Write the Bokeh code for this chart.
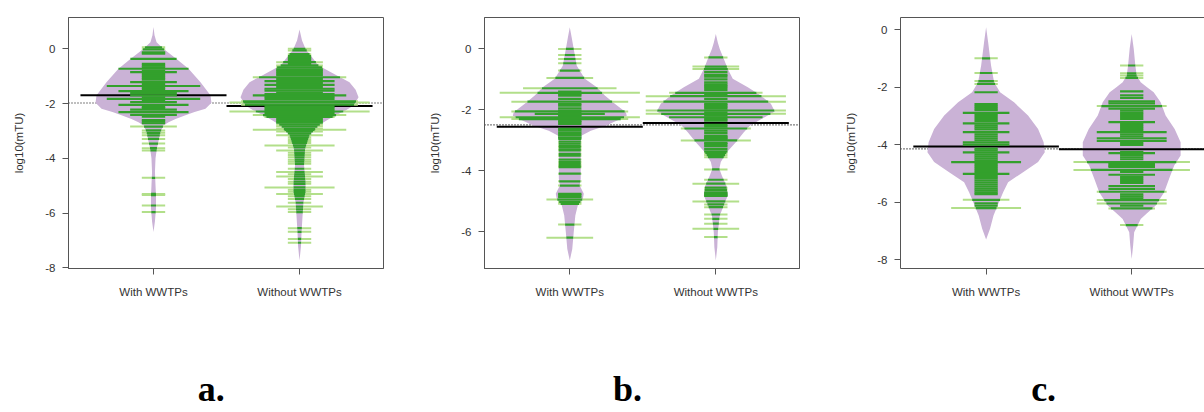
import numpy as np
from bokeh.plotting import figure
from bokeh.layouts import row, column
from bokeh.models import Range1d, FixedTicker, Span, LinearAxis
from bokeh.core.properties import value
from bokeh.embed import file_html
from bokeh.resources import INLINE

categories = ["With WWTPs", "Without WWTPs"]
panel_tags = ["a.", "b.", "c."]
y_title = "log10(mTU)"
yticks_a = [0, -2, -4, -6, -8]
yticks_b = [0, -2, -4, -6]
yticks_c = [0, -2, -4, -6, -8]

# ---- bean outlines: y levels and half-widths (x units) ----
a_with_dy = [0.79, 0.49, 0.24, 0.0, -0.37, -0.73, -1.22, -1.70, -1.97, -2.19, -2.31, -2.43,
             -2.56, -2.68, -2.80, -3.04, -3.65, -4.0, -4.5, -5.0, -5.35, -5.84, -6.3, -6.69]
a_with_dw = [0, .007, .021, .068, .158, .240, .322, .390, .397, .356, .281, .219,
             .151, .103, .068, .048, .023, .014, .010, .014, .017, .017, .010, 0]
a_wo_dy = [0.70, 0.3, 0.0, -0.24, -0.61, -0.97, -1.22, -1.50, -1.77, -2.07, -2.25, -2.43,
           -2.62, -2.80, -3.16, -3.65, -4.26, -4.87, -5.23, -5.6, -6.08, -6.69, -7.2, -7.73]
a_wo_dw = [0, .017, .041, .075, .130, .253, .342, .384, .404, .370, .315, .247,
           .185, .130, .068, .038, .031, .041, .041, .027, .021, .014, .010, 0]
b_with_dy = [0.71, 0.35, 0.0, -0.55, -0.98, -1.26, -1.53, -1.80, -2.08, -2.19, -2.30, -2.40,
             -2.52, -2.68, -2.84, -3.06, -3.50, -3.93, -4.26, -4.48, -4.75, -4.92, -5.13,
             -5.46, -6.01, -6.56, -6.94]
b_with_dw = [0, .014, .027, .048, .103, .185, .240, .308, .384, .390, .349, .301,
             .247, .144, .082, .075, .075, .075, .075, .068, .096, .089, .055,
             .038, .027, .017, 0]
b_wo_dy = [0.49, 0.2, 0.0, -0.33, -0.66, -0.98, -1.26, -1.53, -1.80, -2.05, -2.29, -2.52,
           -2.73, -3.06, -3.39, -3.71, -3.93, -4.15, -4.48, -4.81, -5.13, -5.46, -6.01, -6.5, -6.94]
b_wo_dw = [0, .014, .027, .055, .082, .116, .219, .308, .377, .404, .315, .233,
           .192, .137, .075, .034, .024, .041, .072, .082, .055, .027, .014, .010, 0]
c_with_dy = [0.08, -0.44, -1.25, -1.83, -2.18, -2.53, -2.99, -3.46, -3.92, -4.27, -4.61,
             -4.96, -5.31, -5.66, -6.0, -6.47, -6.93, -7.30]
c_with_dw = [0, .014, .034, .055, .096, .192, .288, .357, .395, .403, .357,
             .254, .151, .117, .089, .051, .027, 0]
c_wo_dy = [-0.15, -0.67, -1.25, -1.6, -1.83, -2.0, -2.18, -2.53, -2.99, -3.46, -3.92, -4.38,
           -4.73, -5.19, -5.66, -6.12, -6.40, -6.59, -7.05, -7.5, -7.98]
c_wo_dw = [0, .014, .025, .034, .062, .103, .151, .199, .233, .295, .336, .336,
           .292, .257, .223, .165, .103, .062, .017, .010, 0]

# ---- observations (log10 mTU) and number of identical observations ----
a_with_vals = [0.05, -0.02, -0.13, -0.18, -0.37, -0.55, -0.62, -0.68, -0.73, -0.80,
               -0.85, -0.92, -0.99, -1.06, -1.13, -1.22, -1.29, -1.36, -1.43, -1.49,
               -1.55, -1.62, -1.70, -1.77, -1.83, -1.89, -1.95, -2.05, -2.12, -2.17,
               -2.22, -2.31, -2.41, -2.48, -2.60, -2.66, -2.72, -2.84, -2.98, -3.07,
               -3.16, -3.29, -3.46, -3.63, -3.71, -4.71, -5.30, -5.34, -5.72, -5.96]
a_with_cnt = [1, 1, 1, 1, 2, 1, 1, 1, 3, 1,
              2, 1, 1, 1, 1, 2, 1, 4, 1, 1,
              3, 2, 2, 1, 4, 1, 2, 3, 1, 1,
              2, 3, 2, 1, 1, 1, 1, 2, 1, 1,
              1, 1, 1, 1, 1, 1, 1, 1, 1, 1]
a_wo_vals = [0.00, -0.06, -0.20, -0.27, -0.34, -0.41, -0.49, -0.55, -0.61, -0.68,
             -0.75, -0.82, -0.89, -0.96, -1.04, -1.11, -1.18, -1.25, -1.32, -1.39,
             -1.46, -1.53, -1.60, -1.66, -1.70, -1.76, -1.83, -1.92, -1.96, -2.04,
             -2.10, -2.17, -2.24, -2.29, -2.35, -2.42, -2.49, -2.56, -2.63, -2.70,
             -2.77, -2.84, -2.93, -2.96, -3.02, -3.09, -3.16, -3.23, -3.30, -3.37,
             -3.44, -3.53, -3.60, -3.71, -3.80, -3.88, -3.96, -4.05, -4.12, -4.20,
             -4.38, -4.50, -4.58, -4.66, -4.75, -4.85, -4.93, -5.06, -5.15, -5.22,
             -5.30, -5.38, -5.48, -5.62, -5.76, -5.86, -5.96, -6.55, -6.68, -6.94,
             -7.08]
a_wo_cnt = [1, 1, 1, 1, 1, 1, 2, 1, 2, 2,
            2, 2, 2, 2, 4, 2, 3, 2, 3, 2,
            3, 3, 2, 3, 4, 3, 3, 5, 6, 5,
            3, 3, 3, 6, 3, 4, 3, 2, 2, 2,
            2, 2, 2, 4, 2, 1, 2, 1, 1, 1,
            1, 3, 1, 2, 1, 1, 1, 1, 1, 1,
            1, 2, 1, 2, 1, 1, 1, 3, 1, 1,
            2, 1, 1, 1, 2, 1, 1, 1, 1, 1,
            1]
b_with_vals = [0.00, -0.20, -0.33, -0.47, -0.71, -0.95, -1.29, -1.40, -1.44, -1.48,
               -1.53, -1.64, -1.73, -1.80, -1.86, -1.95, -2.02, -2.05, -2.10, -2.13,
               -2.17, -2.21, -2.24, -2.30, -2.36, -2.40, -2.46, -2.62, -2.68, -2.75,
               -2.82, -2.90, -2.95, -3.04, -3.11, -3.18, -3.22, -3.29, -3.33, -3.44,
               -3.50, -3.63, -3.71, -3.78, -3.84, -3.88, -4.09, -4.34, -4.48, -4.75,
               -4.80, -4.86, -4.94, -5.02, -5.08, -5.76, -6.19]
b_with_cnt = [1, 1, 1, 1, 1, 2, 4, 1, 6, 1,
              1, 1, 5, 1, 1, 1, 1, 5, 1, 3,
              1, 1, 6, 5, 1, 1, 1, 1, 1, 1,
              1, 1, 1, 1, 1, 1, 1, 1, 1, 1,
              1, 1, 1, 1, 1, 1, 1, 1, 1, 1,
              1, 1, 2, 1, 1, 1, 2]
b_wo_vals = [-0.28, -0.58, -0.66, -0.76, -0.85, -0.91, -1.00, -1.10, -1.16, -1.22,
             -1.28, -1.35, -1.44, -1.50, -1.55, -1.64, -1.73, -1.80, -1.85, -1.90,
             -1.96, -2.02, -2.08, -2.13, -2.19, -2.24, -2.30, -2.35, -2.49, -2.55,
             -2.61, -2.68, -2.75, -2.84, -2.88, -2.92, -2.95, -3.00, -3.08, -3.12,
             -3.19, -3.28, -3.36, -3.41, -3.48, -3.55, -3.95, -4.29, -4.42, -4.55,
             -4.62, -4.70, -4.74, -4.78, -4.82, -5.00, -5.10, -5.19, -5.43, -5.57,
             -5.73, -5.90, -6.17]
b_wo_cnt = [1, 2, 2, 1, 1, 1, 1, 1, 1, 1,
            1, 1, 4, 1, 6, 1, 6, 1, 1, 1,
            1, 6, 1, 6, 1, 4, 1, 1, 1, 1,
            3, 1, 1, 1, 1, 1, 1, 3, 1, 1,
            1, 1, 1, 1, 1, 1, 1, 1, 2, 1,
            1, 1, 1, 1, 1, 2, 1, 1, 1, 1,
            1, 2, 1]
c_with_vals = [-1.00, -1.51, -1.79, -1.89, -2.18, -2.59, -2.66, -2.73, -2.80, -2.90,
               -2.97, -3.04, -3.11, -3.18, -3.26, -3.33, -3.40, -3.47, -3.57, -3.64,
               -3.71, -3.78, -3.85, -3.92, -4.00, -4.14, -4.20, -4.27, -4.34, -4.41,
               -4.48, -4.55, -4.61, -4.68, -4.75, -4.82, -4.89, -4.96, -5.02, -5.10,
               -5.17, -5.24, -5.31, -5.38, -5.45, -5.52, -5.59, -5.66, -5.72, -5.92,
               -6.04, -6.12, -6.21]
c_with_cnt = [1, 1, 1, 1, 1, 1, 1, 1, 1, 2,
              1, 1, 1, 1, 2, 1, 1, 1, 2, 1,
              1, 1, 1, 2, 2, 1, 1, 2, 1, 1,
              1, 1, 3, 1, 1, 1, 1, 1, 2, 1,
              1, 1, 1, 1, 1, 1, 1, 1, 1, 2,
              1, 1, 3]
c_wo_vals = [-1.25, -1.52, -1.60, -1.68, -2.15, -2.29, -2.38, -2.50, -2.57, -2.66,
             -2.75, -2.82, -2.90, -2.97, -3.04, -3.11, -3.22, -3.29, -3.36, -3.43,
             -3.50, -3.57, -3.64, -3.71, -3.78, -3.87, -3.94, -4.01, -4.25, -4.30,
             -4.37, -4.44, -4.51, -4.61, -4.65, -4.70, -4.74, -4.78, -4.88, -4.95,
             -5.05, -5.12, -5.19, -5.26, -5.33, -5.44, -5.54, -5.64, -5.73, -5.80,
             -5.87, -5.93, -6.05, -6.12, -6.22, -6.80]
c_wo_cnt = [1, 1, 1, 1, 1, 1, 1, 2, 2, 3,
            2, 1, 1, 1, 1, 1, 2, 1, 1, 1,
            1, 3, 1, 1, 3, 3, 1, 1, 1, 2,
            1, 1, 1, 5, 2, 2, 2, 2, 5, 1,
            2, 1, 1, 1, 1, 2, 2, 3, 1, 1,
            1, 3, 3, 1, 2, 1]

# group means and overall mean
means_a = [-1.70, -2.09]
means_b = [-2.55, -2.43]
means_c = [-4.07, -4.16]
overall = [-1.98, -2.49, -4.15]

BEAN = "#CAB2D6"
IN_LINE = "#33A02C"
OUT_LINE = "#B2DF8A"
AXIS = "#555555"
TXT = "#333333"
LL, MAXL = 0.16, 0.96


def draw_bean(p, pos, dy, dw):
    dy = np.asarray(dy, float)
    dw = np.asarray(dw, float)
    xs = np.concatenate([pos + dw, (pos - dw)[::-1]])
    ys = np.concatenate([dy, dy[::-1]])
    p.patch(xs, ys, fill_color=BEAN, line_color=None)


def draw_lines(p, pos, dy, dw, vals, cnts):
    dy = np.asarray(dy, float)
    dw = np.asarray(dw, float)
    v = np.asarray(vals, float)
    c = np.asarray(cnts, float)
    half = np.minimum(LL * c, MAXL) / 2.0
    hw = np.interp(v, dy[::-1], dw[::-1])
    inner = np.minimum(half, hw)
    out = half > hw
    lx0 = np.concatenate([pos - half[out], pos + hw[out]])
    lx1 = np.concatenate([pos - hw[out], pos + half[out]])
    ly = np.concatenate([v[out], v[out]])
    p.segment(x0=lx0, y0=ly, x1=lx1, y1=ly, line_color=OUT_LINE, line_width=2)
    p.segment(x0=pos - inner, y0=v, x1=pos + inner, y1=v, line_color=IN_LINE, line_width=2.2)


def panel(width, left, right, xr, yr, yticks, beans, means, overall_mean, open_right=False):
    p = figure(width=width, height=310, x_range=Range1d(*xr), y_range=Range1d(*yr),
               output_backend="svg", toolbar_location=None,
               min_border_left=left, min_border_right=right,
               min_border_top=17, min_border_bottom=42)
    p.grid.visible = False
    p.outline_line_color = None if open_right else AXIS
    p.outline_line_width = 1

    p.xaxis.ticker = FixedTicker(ticks=[1, 2])
    p.xaxis.major_label_overrides = {1: categories[0], 2: categories[1]}
    p.yaxis.ticker = FixedTicker(ticks=yticks)
    p.yaxis.major_label_overrides = {t: ("%d" % t) for t in yticks}
    for ax in (p.xaxis[0], p.yaxis[0]):
        ax.axis_line_color = AXIS
        ax.major_tick_line_color = AXIS
        ax.major_tick_out = 6
        ax.major_tick_in = 0
        ax.minor_tick_line_color = None
        ax.major_label_text_font = "Liberation Sans"
        ax.major_label_text_font_size = "11.5px"
        ax.major_label_text_color = TXT
    p.xaxis.major_label_standoff = 11
    p.yaxis.major_label_standoff = 7
    p.yaxis.axis_label = y_title
    p.yaxis.axis_label_text_font = "Liberation Sans"
    p.yaxis.axis_label_text_font_size = "11.5px"
    p.yaxis.axis_label_text_font_style = "normal"
    p.yaxis.axis_label_text_color = TXT
    p.yaxis.axis_label_standoff = 17

    if open_right:
        top = LinearAxis(ticker=FixedTicker(ticks=[]), major_tick_out=0, major_tick_in=0,
                         axis_line_color=AXIS, major_label_text_font_size="0px")
        p.add_layout(top, "above")

    p.add_layout(Span(location=overall_mean, dimension="width", line_color="black",
                      line_dash="1 2", line_width=1.2, level="underlay"))
    for i, (dy, dw, vals, cnts) in enumerate(beans):
        draw_bean(p, i + 1, dy, dw)
    pos = np.array([1.0, 2.0])
    p.segment(x0=pos - 0.5, y0=means, x1=pos + 0.5, y1=means, line_color="black", line_width=2)
    for i, (dy, dw, vals, cnts) in enumerate(beans):
        draw_lines(p, i + 1, dy, dw, vals, cnts)
    return p


def tag_panel(width, left, right, xr, tag):
    q = figure(width=width, height=102, x_range=Range1d(*xr), y_range=Range1d(0, 1),
               output_backend="svg", toolbar_location=None,
               min_border_left=left, min_border_right=right,
               min_border_top=0, min_border_bottom=0)
    q.axis.visible = False
    q.grid.visible = False
    q.outline_line_color = None
    q.text(x=[1.395], y=[0.235], text=[tag], text_font=value("Liberation Serif"),
           text_font_style="bold", text_font_size="36px", text_align="center",
           text_baseline="alphabetic", text_color="black")
    return q


spec_a = (400, 68, 17, (0.418, 2.575))
spec_b = (416, 84, 17, (0.416, 2.573))
spec_c = (388, 84, 0, (0.412, 2.5))

pa = panel(*spec_a, (-8.02, 1.14), yticks_a,
           [(a_with_dy, a_with_dw, a_with_vals, a_with_cnt),
            (a_wo_dy, a_wo_dw, a_wo_vals, a_wo_cnt)], means_a, overall[0])
pb = panel(*spec_b, (-7.20, 1.03), yticks_b,
           [(b_with_dy, b_with_dw, b_with_vals, b_with_cnt),
            (b_wo_dy, b_wo_dw, b_wo_vals, b_wo_cnt)], means_b, overall[1])
pc = panel(*spec_c, (-8.31, 0.42), yticks_c,
           [(c_with_dy, c_with_dw, c_with_vals, c_with_cnt),
            (c_wo_dy, c_wo_dw, c_wo_vals, c_wo_cnt)], means_c, overall[2], open_right=True)

ta = tag_panel(*spec_a, panel_tags[0])
tb = tag_panel(*spec_b, panel_tags[1])
tc = tag_panel(*spec_c, panel_tags[2])

layout = column(row(pa, pb, pc), row(ta, tb, tc))
open("out.html", "w").write(file_html(layout, INLINE))
